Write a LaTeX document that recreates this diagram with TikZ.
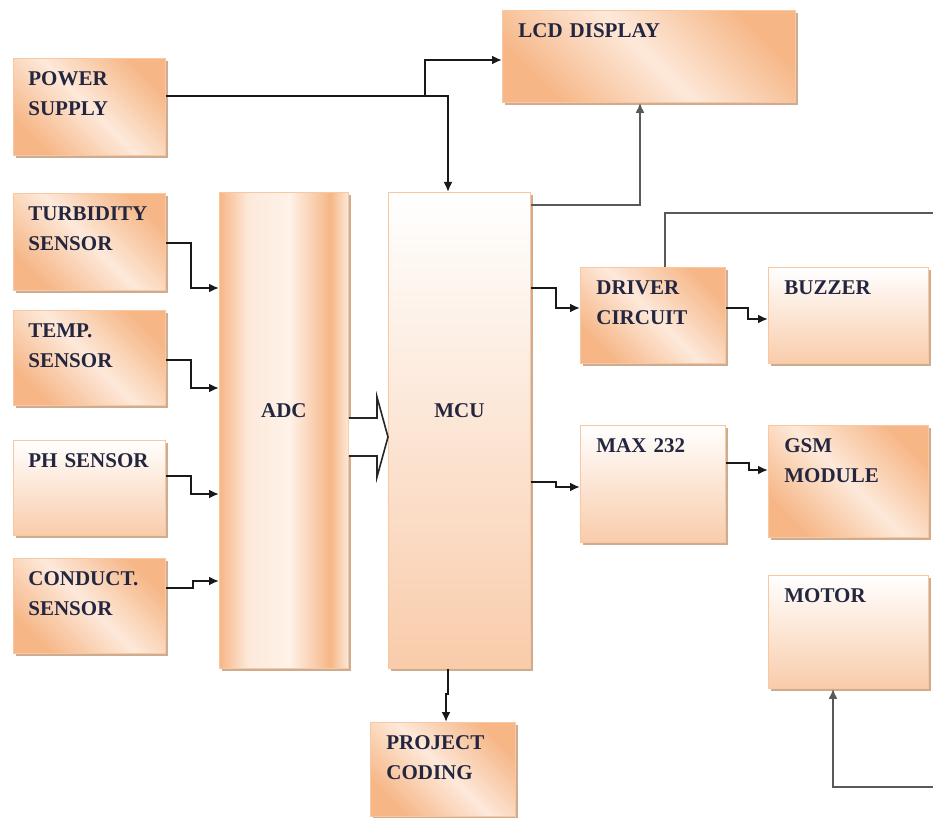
\documentclass[tikz,border=0pt]{standalone}
\usepackage{fontspec}
\setmainfont{Liberation Serif}
\usetikzlibrary{arrows.meta,shadows}

\definecolor{peach}{RGB}{246,182,134}
\definecolor{peachlt}{RGB}{253,233,218}
\definecolor{peachxlt}{RGB}{254,242,233}
\definecolor{peachedge}{RGB}{250,200,160}
\definecolor{shadowcol}{RGB}{205,172,145}
\definecolor{inkcol}{RGB}{35,38,62}
\definecolor{wirecol}{RGB}{25,25,25}

\pgfdeclarehorizontalshading{adcshade}{100bp}{color(0bp)=(peach); color(25bp)=(peach); color(36bp)=(peachlt); color(52bp)=(peachxlt); color(68bp)=(peach); color(75bp)=(peachlt); color(100bp)=(peachlt)}

\begin{document}
\begin{tikzpicture}[x=0.5pt, y=-0.5pt, font=\fontsize{10.5}{15}\selectfont\bfseries,
    every node/.style={text=inkcol},
    boxshadow/.style={drop shadow={shadow xshift=1.5pt, shadow yshift=-1.5pt, fill=shadowcol, opacity=1}},
    blk/.style 2 args={draw=peachedge, anchor=north west, align=left, inner xsep=7.5pt, inner ysep=6.5pt,
                       text width=#1, text height=7pt, text depth=#2, boxshadow},
    wide blk/.style 2 args={blk={#1}{#2}, inner xsep=8pt},
    tall/.style={draw=peachedge, anchor=north west, inner sep=0pt, minimum width=#1,
                 minimum height=238pt, text depth=20pt, boxshadow},
    diag/.style={top color=peach, bottom color=peach, middle color=peachlt, shading angle=-45},
    fade/.style={top color=white, bottom color=peach!70!white},
    wire/.style={draw=wirecol, line width=1pt, -{Latex[length=5pt,width=4.5pt]}},
    grey wire/.style={wire, draw=black!65, line width=1.4pt}]

  \useasboundingbox (0,0) rectangle (933,818);

  \node[blk={61pt}{28.5pt}, diag] (power) at (13,58) {POWER\\SUPPLY};
  \node[wide blk={130.5pt}{26pt}, diag] (lcd) at (502,10) {LCD DISPLAY};
  \node[blk={61pt}{28.5pt}, diag] (turb) at (13,193) {TURBIDITY\\SENSOR};
  \node[blk={61pt}{27.5pt}, diag] (temp) at (13,310) {TEMP.\\SENSOR};
  \node[blk={61pt}{27.5pt}, fade] (ph) at (13,440) {PH~SENSOR};
  \node[blk={61pt}{27.5pt}, diag] (cond) at (13,558) {CONDUCT.\\SENSOR};
  \node[tall=64.5pt, shade, shading=adcshade] (adc) at (219,192) {ADC};
  \node[tall=71pt, fade] (mcu) at (388,192) {MCU};
  \node[wide blk={56.5pt}{28pt}, diag] (drv) at (580,267) {DRIVER\\CIRCUIT};
  \node[wide blk={64pt}{28pt}, fade] (buz) at (768,267) {BUZZER};
  \node[wide blk={56.5pt}{38.5pt}, fade] (max) at (580,425) {MAX 232};
  \node[wide blk={64pt}{36pt}, diag] (gsm) at (768,425) {GSM\\MODULE};
  \node[wide blk={64pt}{36.5pt}, fade] (motor) at (768,575) {MOTOR};
  \node[wide blk={56.5pt}{27pt}, diag] (code) at (370,722) {PROJECT\\CODING};

  \coordinate (split) at (425,96);
  \coordinate (edgeT) at (933,213);
  \coordinate (edgeB) at (933,787);

  \draw[wire] (power.east |- 0,96) -| (mcu.north -| 448,0);
  \draw[wire] (split) |- (lcd.west |- 0,60);
  \draw[grey wire] (mcu.east |- 0,205) -| (lcd.south -| 640,0);

  \draw[wire] (turb.east |- 0,243) -- ++(25,0) |- (adc.west |- 0,288);
  \draw[wire] (temp.east |- 0,360) -- ++(25,0) |- (adc.west |- 0,388);
  \draw[wire] (ph.east |- 0,476) -- ++(25,0) |- (adc.west |- 0,494);
  \draw[wire] (cond.east |- 0,588) -- ++(27,0) |- (adc.west |- 0,581);

  \draw[fill=white, draw=black!85, line width=0.8pt]
    (adc.east |- 0,418) -- (377,418) -- (377,397) -- (mcu.west |- 0,437)
    -- (377,477) -- (377,456) -- (adc.east |- 0,456);

  \draw[wire] (mcu.east |- 0,288) -- ++(25,0) |- (drv.west |- 0,308);
  \draw[wire] (drv.east |- 0,308) -- ++(22,0) |- (buz.west |- 0,319);
  \draw[wire] (mcu.east |- 0,482) -- ++(25,0) |- (max.west |- 0,487);
  \draw[wire] (max.east |- 0,463) -- ++(23,0) |- (gsm.west |- 0,470);
  \draw[wire] (mcu.south -| 448,0) -- ++(0,25) -| (code.north -| 446,0);

  \draw[grey wire, -] (drv.north -| 665,0) |- (edgeT);
  \draw[grey wire] (edgeB) -| (motor.south -| 833,0);

\end{tikzpicture}
\end{document}
